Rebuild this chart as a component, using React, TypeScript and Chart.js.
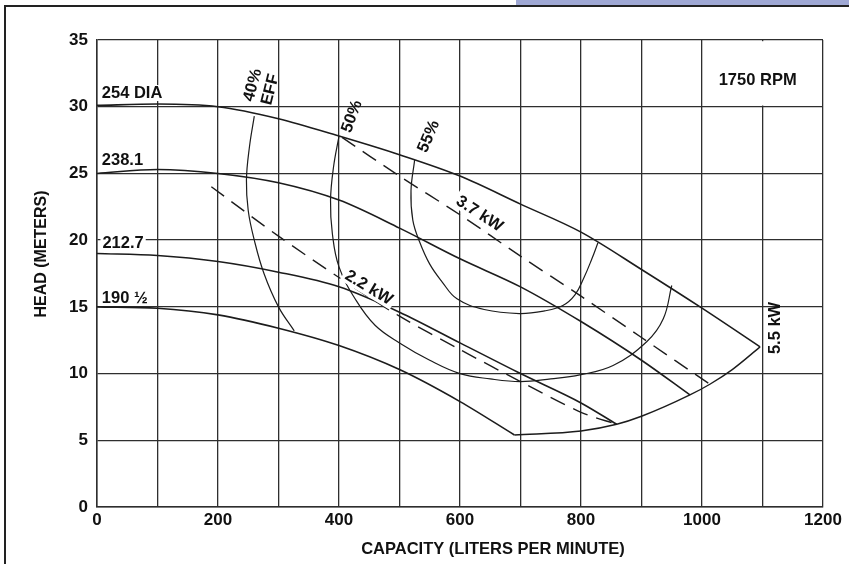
import React, { useEffect, useRef } from "react";
import { Chart, registerables } from "chart.js";

Chart.register(...registerables);

// ---- Head curves (capacity L/min, head m) ----
const Q_254 = [0, 100, 200, 300, 400, 500, 600, 700, 800, 900, 1000, 1096];
const H_254 = [30.1, 30.2, 30.0, 29.1, 27.8, 26.4, 24.8, 22.7, 20.6, 17.8, 14.9, 12.0];

const Q_238 = [0, 100, 200, 300, 400, 500, 600, 700, 800, 900, 980];
const H_238 = [25.0, 25.3, 25.0, 24.3, 23.0, 20.9, 18.6, 16.5, 13.9, 11.0, 8.4];

const Q_212 = [0, 100, 200, 300, 400, 500, 600, 700, 800, 859];
const H_212 = [19.0, 18.85, 18.4, 17.6, 16.5, 14.6, 12.3, 10.0, 7.8, 6.2];

const Q_190 = [0, 100, 200, 300, 400, 500, 600, 690];
const H_190 = [15.0, 14.9, 14.4, 13.4, 12.1, 10.3, 7.9, 5.4];

// ---- End-of-curve boundary ----
const Q_END = [690, 800, 859, 900, 980, 1013, 1050, 1096];
const H_END = [5.4, 5.7, 6.2, 6.8, 8.4, 9.2, 10.3, 12.0];

// ---- Power lines (dashed) ----
const Q_22KW = [189, 300, 400, 500, 600, 700, 800, 859];
const H_22KW = [24.0, 20.3, 17.2, 14.3, 11.8, 9.4, 7.1, 6.2];

const Q_37KW = [405, 500, 600, 700, 800, 900, 1013];
const H_37KW = [27.7, 24.8, 21.9, 18.8, 15.8, 12.7, 9.2];

// ---- Efficiency curves ----
const Q_E40 = [260, 252, 247, 250, 260, 276, 300, 326];
const H_E40 = [29.3, 27.0, 24.5, 22.2, 20.0, 17.5, 15.0, 13.2];

const Q_E50 = [400, 391, 386, 389, 400, 428, 460, 500, 550, 600, 650, 700, 750, 798, 853, 909, 936, 950];
const H_E50 = [27.8, 25.5, 23.0, 20.5, 18.0, 15.5, 13.6, 12.3, 11.0, 10.0, 9.6, 9.4, 9.6, 9.9, 10.6, 12.4, 14.1, 16.6];

const Q_E55 = [525, 519, 522, 533, 550, 570, 595, 640, 698, 740, 770, 790, 805, 818, 828];
const H_E55 = [26.0, 23.7, 21.5, 19.9, 18.2, 16.9, 15.6, 14.8, 14.5, 14.7, 15.1, 15.9, 17.2, 18.6, 19.8];

// ---- Axis ticks ----
const X_MIN = 0, X_MAX = 1200, X_STEP = 100, X_LABEL_EVERY = 200;
const Y_MIN = 0, Y_MAX = 35, Y_STEP = 5;

// ---- Annotation texts ----
const LABEL_TEXT = ["254 DIA", "238.1", "212.7", "190 \u00BD"];
const LABEL_Q = [8, 8, 9, 8];
const LABEL_H = [30.65, 25.63, 19.41, 15.29];

const NOTE_TEXT = ["40%", "EFF", "50%", "55%", "3.7 kW", "2.2 kW", "5.5 kW"];
const NOTE_Q = [256, 285, 420, 547, 633, 450, 1119];
const NOTE_H = [31.63, 31.3, 29.3, 27.8, 22.03, 16.49, 13.42];
const NOTE_ROT = [-75, -76, -70, -67, 33, 31, -90];
const NOTE_BG = [false, false, false, false, true, true, false];

const RPM_TEXT = "1750 RPM";
const RPM_Q = 1092, RPM_H = 31.95;

const X_TITLE = "CAPACITY (LITERS PER MINUTE)";
const Y_TITLE = "HEAD (METERS)";

const FONT = '"Liberation Sans", Arial, Helvetica, sans-serif';

const pts = (xs: number[], ys: number[]) => xs.map((x, i) => ({ x, y: ys[i] }));

export default function App() {
  const ref = useRef<HTMLCanvasElement | null>(null);

  useEffect(() => {
    document.body.style.margin = "0";
    const canvas = ref.current;
    if (!canvas) return;

    const solid = (data: any, width = 1.6, tension = 0.4, mono = true) => ({
      data,
      showLine: true,
      borderColor: "#1c1c1c",
      borderWidth: width,
      pointRadius: 0,
      tension,
      cubicInterpolationMode: mono ? "monotone" : "default",
      fill: false,
    });
    const dashed = (data: any) => ({
      data,
      showLine: true,
      borderColor: "#1c1c1c",
      borderWidth: 1.4,
      borderDash: [16, 9],
      pointRadius: 0,
      tension: 0.3,
      fill: false,
    });

    const labelsPlugin = {
      id: "pumpLabels",
      beforeDatasetsDraw(chart: any) {
        const { ctx, scales } = chart;
        const xs = scales.x, ys = scales.y;
        const l = xs.getPixelForValue(1000) + 1.2;
        const r = xs.getPixelForValue(1200) - 1.2;
        const t = ys.getPixelForValue(35) + 1.2;
        const b = ys.getPixelForValue(30) - 1.2;
        ctx.save();
        ctx.fillStyle = "#ffffff";
        ctx.fillRect(l, t, r - l, b - t);
        ctx.fillStyle = "#111";
        ctx.font = `bold 16.5px ${FONT}`;
        ctx.textAlign = "center";
        ctx.textBaseline = "middle";
        ctx.fillText(RPM_TEXT, xs.getPixelForValue(RPM_Q), ys.getPixelForValue(RPM_H));
        ctx.restore();
      },
      afterDatasetsDraw(chart: any) {
        const { ctx, scales } = chart;
        const xs = scales.x, ys = scales.y;
        ctx.save();
        ctx.font = `bold 16.5px ${FONT}`;
        ctx.textBaseline = "alphabetic";
        ctx.textAlign = "left";
        LABEL_TEXT.forEach((txt, i) => {
          const px = xs.getPixelForValue(LABEL_Q[i]);
          const py = ys.getPixelForValue(LABEL_H[i]);
          const w = ctx.measureText(txt).width;
          ctx.fillStyle = "#ffffff";
          ctx.fillRect(px - 2, py - 13, w + 4, 16);
          ctx.fillStyle = "#111";
          ctx.fillText(txt, px, py);
        });
        ctx.textAlign = "center";
        ctx.textBaseline = "middle";
        NOTE_TEXT.forEach((txt, i) => {
          const px = xs.getPixelForValue(NOTE_Q[i]);
          const py = ys.getPixelForValue(NOTE_H[i]);
          ctx.save();
          ctx.translate(px, py);
          ctx.rotate((NOTE_ROT[i] * Math.PI) / 180);
          const w = ctx.measureText(txt).width;
          if (NOTE_BG[i]) {
            ctx.fillStyle = "#ffffff";
            ctx.fillRect(-w / 2 - 3, -9, w + 6, 18);
          }
          ctx.fillStyle = "#111";
          ctx.fillText(txt, 0, 1);
          ctx.restore();
        });
        ctx.restore();
      },
      afterDraw(chart: any) {
        const { ctx } = chart;
        ctx.save();
        ctx.fillStyle = "#111";
        ctx.textAlign = "center";
        ctx.textBaseline = "middle";
        ctx.font = `bold 16.5px ${FONT}`;
        ctx.fillText(X_TITLE, 493, 549);
        ctx.translate(42, 254);
        ctx.rotate(-Math.PI / 2);
        ctx.font = `bold 16px ${FONT}`;
        ctx.fillText(Y_TITLE, 0, 0);
        ctx.restore();
      },
    };

    const chart = new Chart(canvas, {
      type: "scatter",
      data: {
        datasets: [
          solid(pts(Q_254, H_254)),
          solid(pts(Q_238, H_238)),
          solid(pts(Q_212, H_212)),
          solid(pts(Q_190, H_190)),
          solid(pts(Q_END, H_END), 1.4),
          dashed(pts(Q_22KW, H_22KW)),
          dashed(pts(Q_37KW, H_37KW)),
          solid(pts(Q_E40, H_E40), 1.2, 0.4, false),
          solid(pts(Q_E50, H_E50), 1.2, 0.4, false),
          solid(pts(Q_E55, H_E55), 1.2, 0.4, false),
        ] as any,
      },
      options: {
        animation: false,
        responsive: false,
        maintainAspectRatio: false,
        devicePixelRatio: 1,
        layout: { padding: { left: 0, top: 40, right: 26, bottom: 0 } },
        plugins: { legend: { display: false }, tooltip: { enabled: false } },
        events: [],
        scales: {
          x: {
            type: "linear",
            min: X_MIN,
            max: X_MAX,
            afterFit: (s: any) => { s.height = 57; },
            ticks: {
              stepSize: X_STEP,
              autoSkip: false,
              maxRotation: 0,
              padding: 3,
              color: "#111",
              font: { family: FONT, size: 17, weight: "bold" },
              callback: (v: any) => (Number(v) % X_LABEL_EVERY === 0 ? String(v) : ""),
            },
            grid: { color: "#2e2e2e", lineWidth: 1.3, drawTicks: false },
            border: { color: "#2e2e2e", width: 1.5 },
          },
          y: {
            type: "linear",
            min: Y_MIN,
            max: Y_MAX,
            afterFit: (s: any) => { s.width = 97; },
            ticks: {
              stepSize: Y_STEP,
              padding: 9,
              color: "#111",
              font: { family: FONT, size: 17, weight: "bold" },
            },
            grid: { color: "#2e2e2e", lineWidth: 1.3, drawTicks: false },
            border: { color: "#2e2e2e", width: 1.5 },
          },
        },
      } as any,
      plugins: [labelsPlugin],
    });

    return () => chart.destroy();
  }, []);

  return (
    <div style={{ position: "fixed", left: 0, top: 0, width: 849, height: 564, background: "#fff", overflow: "hidden" }}>
      <canvas ref={ref} width={849} height={564} style={{ position: "absolute", left: 0, top: 0, width: 849, height: 564 }} />
      <div style={{ position: "absolute", left: 516, top: 0, width: 333, height: 5, background: "#9fa8d4" }} />
      <div style={{ position: "absolute", left: 4, top: 5, width: 845, height: 2, background: "#222" }} />
      <div style={{ position: "absolute", left: 4, top: 5, width: 2, height: 559, background: "#222" }} />
    </div>
  );
}
